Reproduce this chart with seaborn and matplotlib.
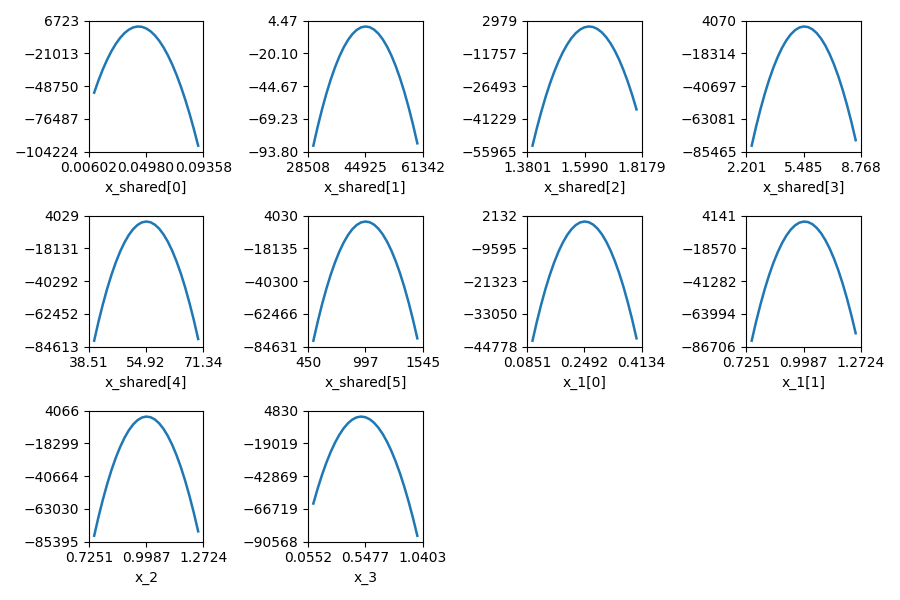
import matplotlib
matplotlib.use("Agg")
import matplotlib.pyplot as plt
import seaborn as sns

# x labels of the panels
names = ["x_shared[0]", "x_shared[1]", "x_shared[2]", "x_shared[3]", "x_shared[4]",
         "x_shared[5]", "x_1[0]", "x_1[1]", "x_2", "x_3"]

# curves
xs0_x = [0.0100, 0.01332, 0.01663, 0.01995, 0.02327, 0.02658, 0.0299, 0.03322, 0.03653, 0.03985, 0.04317, 0.04648,
         0.0498, 0.05312, 0.05643, 0.05975, 0.06307, 0.06638, 0.0697, 0.07302, 0.07633, 0.07965, 0.08297, 0.08628, 0.0896]
xs0_y = [-54323, -43929, -34600, -26335, -19136, -13008, -7945, -3948, -1017, 848, 1647, 1378,
         43, -2358, -5825, -10366, -15972, -22638, -30370, -39169, -49033, -59977, -71987, -85048, -99174]

xs1_x = [30000, 31244, 32488, 33731, 34975, 36219, 37463, 38706, 39950, 41194, 42438, 43681,
         44925, 46169, 47413, 48656, 49900, 51144, 52388, 53631, 54875, 56119, 57363, 58606, 59850]
xs1_y = [-89.33, -75.13, -62.16, -50.42, -39.91, -30.62, -22.56, -15.73, -10.13, -5.75, -2.60, -0.69,
         0.00, -0.54, -2.31, -5.31, -9.54, -14.99, -21.67, -29.58, -38.72, -49.10, -60.70, -73.52, -87.57]

xs2_x = [1.4000, 1.4166, 1.4332, 1.4497, 1.4663, 1.4829, 1.4995, 1.5161, 1.5327, 1.5492, 1.5658, 1.5824,
         1.5990, 1.6156, 1.6322, 1.6487, 1.6653, 1.6819, 1.6985, 1.7151, 1.7317, 1.7482, 1.7648, 1.7814, 1.7980]
xs2_y = [-53285, -45411, -38162, -31531, -25526, -20155, -15409, -11289, -7794, -4922, -2676, -1059,
         -68, 298, 38, -849, -2361, -4498, -7261, -10649, -14663, -19309, -24580, -30471, -36988]

xs3_x = [2.500, 2.7488, 2.9975, 3.2463, 3.495, 3.7438, 3.9925, 4.2413, 4.490, 4.7388, 4.9875, 5.2363,
         5.485, 5.7338, 5.9825, 6.2313, 6.480, 6.7288, 6.9775, 7.2263, 7.475, 7.7238, 7.9725, 8.2213, 8.470]
xs3_y = [-81395, -68545, -56798, -46144, -36593, -28159, -20828, -14599, -9474, -5451, -2531, -719,
         -11, -406, -1905, -4512, -8223, -13035, -18950, -25968, -34090, -43329, -53671, -65105, -77643]

xs4_x = [40.00, 41.24, 42.49, 43.73, 44.98, 46.22, 47.46, 48.71, 49.95, 51.20, 52.44, 53.68,
         54.93, 56.17, 57.41, 58.66, 59.90, 61.15, 62.39, 63.63, 64.88, 66.12, 67.36, 68.61, 69.85]
xs4_y = [-80584, -67762, -56051, -45438, -35937, -27558, -20290, -14132, -9086, -5146, -2318, -604,
         -1, -508, -2126, -4858, -8702, -13653, -19715, -26886, -35168, -44573, -55090, -66705, -79432]

xs5_x = [500, 541.5, 582.9, 624.4, 665.8, 707.3, 748.8, 790.2, 831.7, 873.1, 914.6, 956.0,
         997.5, 1039.0, 1080.4, 1121.9, 1163.3, 1204.8, 1246.3, 1287.7, 1329.2, 1370.6, 1412.1, 1453.5, 1495]
xs5_y = [-80601, -67790, -56086, -45493, -36007, -27626, -20353, -14192, -9139, -5190, -2349, -622,
         -2, -489, -2084, -4791, -8606, -13527, -19555, -26690, -34932, -44294, -54764, -66331, -79005]

x10_x = [0.1000, 0.1124, 0.1249, 0.1373, 0.1498, 0.1622, 0.1746, 0.1871, 0.1995, 0.2120, 0.2244, 0.2368,
         0.2493, 0.2617, 0.2741, 0.2866, 0.2990, 0.3115, 0.3239, 0.3363, 0.3488, 0.3612, 0.3736, 0.3861, 0.3985]
x10_y = [-42645, -35867, -29674, -24070, -19051, -14617, -10768, -7509, -4835, -2746, -1243, -329,
         -1, -259, -1103, -2535, -4553, -7157, -10346, -14121, -18482, -23436, -28975, -35095, -41800]

x11_x = [0.7500, 0.7707, 0.7915, 0.8122, 0.8329, 0.8536, 0.8744, 0.8951, 0.9158, 0.9365, 0.9573, 0.9780,
         0.9988, 1.0195, 1.0402, 1.0609, 1.0817, 1.1024, 1.1231, 1.1438, 1.1646, 1.1853, 1.2060, 1.2268, 1.2475]
x11_y = [-82577, -69593, -57718, -46944, -37279, -28739, -21309, -14986, -9773, -5668, -2672, -792,
         -21, -360, -1809, -4373, -8046, -12827, -18717, -25718, -33828, -43059, -53400, -64843, -77395]

x2_x = [0.7500, 0.7707, 0.7915, 0.8122, 0.8329, 0.8536, 0.8744, 0.8951, 0.9158, 0.9365, 0.9573, 0.9780,
        0.9988, 1.0195, 1.0402, 1.0609, 1.0817, 1.1024, 1.1231, 1.1438, 1.1646, 1.1853, 1.2060, 1.2268, 1.2475]
x2_y = [-81328, -68459, -56698, -46033, -36475, -28040, -20712, -14492, -9380, -5373, -2473, -686,
        -7, -436, -1973, -4622, -8379, -13242, -19212, -26290, -34476, -43782, -54195, -65707, -78327]

x3_x = [0.1000, 0.1373, 0.1746, 0.2119, 0.2493, 0.2866, 0.3239, 0.3612, 0.3985, 0.4358, 0.4731, 0.5104,
        0.5478, 0.5851, 0.6224, 0.6597, 0.6970, 0.7343, 0.7716, 0.8089, 0.8463, 0.8836, 0.9209, 0.9582, 0.9955]
x3_y = [-62794, -51868, -41978, -33112, -25281, -18495, -12745, -8028, -4347, -1698, -84, 493,
        33, -1460, -3989, -7557, -12161, -17794, -24463, -32166, -40904, -50690, -61512, -73354, -86231]

# tick labels as printed
xs0_xt = ["0.00602", "0.04980", "0.09358"]
xs0_yt = ["-104224", "-76487", "-48750", "-21013", "6723"]
xs1_xt = ["28508", "44925", "61342"]
xs1_yt = ["-93.80", "-69.23", "-44.67", "-20.10", "4.47"]
xs2_xt = ["1.3801", "1.5990", "1.8179"]
xs2_yt = ["-55965", "-41229", "-26493", "-11757", "2979"]
xs3_xt = ["2.201", "5.485", "8.768"]
xs3_yt = ["-85465", "-63081", "-40697", "-18314", "4070"]
xs4_xt = ["38.51", "54.92", "71.34"]
xs4_yt = ["-84613", "-62452", "-40292", "-18131", "4029"]
xs5_xt = ["450", "997", "1545"]
xs5_yt = ["-84631", "-62466", "-40300", "-18135", "4030"]
x10_xt = ["0.0851", "0.2492", "0.4134"]
x10_yt = ["-44778", "-33050", "-21323", "-9595", "2132"]
x11_xt = ["0.7251", "0.9987", "1.2724"]
x11_yt = ["-86706", "-63994", "-41282", "-18570", "4141"]
x2_xt = ["0.7251", "0.9987", "1.2724"]
x2_yt = ["-85395", "-63030", "-40664", "-18299", "4066"]
x3_xt = ["0.0552", "0.5477", "1.0403"]
x3_yt = ["-90568", "-66719", "-42869", "-19019", "4830"]

curves = [(xs0_x, xs0_y), (xs1_x, xs1_y), (xs2_x, xs2_y), (xs3_x, xs3_y), (xs4_x, xs4_y),
          (xs5_x, xs5_y), (x10_x, x10_y), (x11_x, x11_y), (x2_x, x2_y), (x3_x, x3_y)]
ticks = [(xs0_xt, xs0_yt), (xs1_xt, xs1_yt), (xs2_xt, xs2_yt), (xs3_xt, xs3_yt), (xs4_xt, xs4_yt),
         (xs5_xt, xs5_yt), (x10_xt, x10_yt), (x11_xt, x11_yt), (x2_xt, x2_yt), (x3_xt, x3_yt)]


def minus(s):
    return s.replace("-", "\u2212")


fig, axes = plt.subplots(3, 4, figsize=(9, 6), dpi=100)
axes = axes.flatten()

for i, ax in enumerate(axes):
    if i >= len(names):
        ax.axis("off")
        continue
    x, y = curves[i]
    xt, yt = ticks[i]
    sns.lineplot(x=x, y=y, ax=ax, color="#1f77b4", linewidth=1.8, sort=False)
    xv = [float(v) for v in xt]
    yv = [float(v) for v in yt]
    ax.set_xlim(xv[0], xv[-1])
    ax.set_ylim(yv[0], yv[-1])
    ax.set_xticks(xv)
    ax.set_xticklabels([minus(v) for v in xt])
    ax.set_yticks(yv)
    ax.set_yticklabels([minus(v) for v in yt])
    ax.set_xlabel(names[i])

plt.tight_layout()
plt.savefig("out.png", dpi=100)
